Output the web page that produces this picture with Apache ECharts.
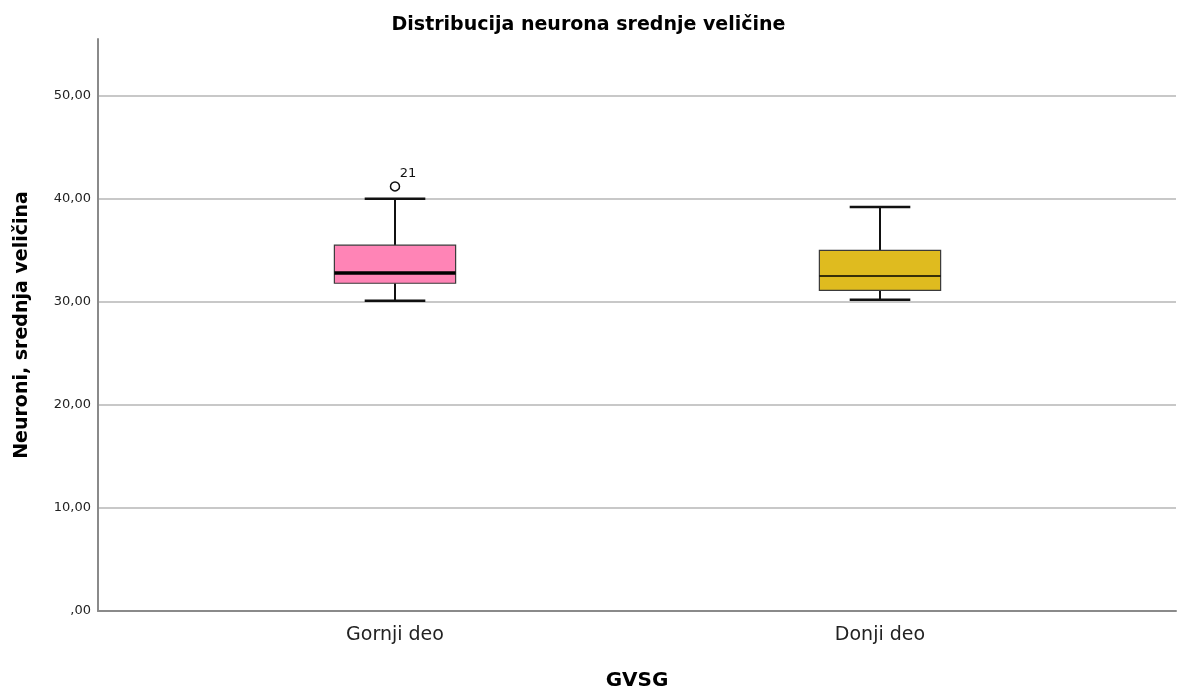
<!DOCTYPE html>
<html>
<head>
<meta charset="utf-8">
<title>Distribucija neurona srednje veličine</title>
<script src="https://cdn.jsdelivr.net/npm/echarts@6/dist/echarts.min.js"></script>
<style>
  html, body { margin: 0; padding: 0; background: #fff; }
  #chart { width: 1177px; height: 689px; }
</style>
</head>
<body>
<div id="chart"></div>
<script>
// Box-plot summary per group: whiskers, quartiles and median
const categories = ['Gornji deo', 'Donji deo'];
const whiskerLow = [30.1, 30.2];
const quartile1 = [31.8, 31.1];
const medians = [32.8, 32.5];
const quartile3 = [35.5, 35.0];
const whiskerHigh = [40.0, 39.2];

// Outliers: [group index, value, case label]
const outliers = [[0, 41.2, '21']];

// Y axis range and tick step
const yMin = 0;
const yMax = 55.5;
const yStep = 10;

const boxColors = ['#FF84B6', '#DFBB1F'];
const medianWidths = [3.5, 1.5];

const FONT = 'DejaVu Sans';

const boxRows = categories.map((c, i) => [i, whiskerLow[i], quartile1[i], medians[i], quartile3[i], whiskerHigh[i]]);

function fmtTick(v) {
  const s = v.toFixed(2).replace('.', ',');
  return s.startsWith('0,') ? s.slice(1) : s;
}

function renderBox(params, api) {
  const idx = api.value(0);
  const x = api.coord([idx, 0])[0];
  const yLo = api.coord([idx, api.value(1)])[1];
  const yQ1 = api.coord([idx, api.value(2)])[1];
  const yMed = api.coord([idx, api.value(3)])[1];
  const yQ3 = api.coord([idx, api.value(4)])[1];
  const yHi = api.coord([idx, api.value(5)])[1];
  const band = api.size([1, 0])[0];
  const bw = band * 0.25;
  const cw = bw / 2;
  const whisk = { stroke: '#111', lineWidth: 2 };
  return {
    type: 'group',
    children: [
      { type: 'line', shape: { x1: x, y1: yQ3, x2: x, y2: yHi }, style: whisk },
      { type: 'line', shape: { x1: x, y1: yQ1, x2: x, y2: yLo }, style: whisk },
      { type: 'line', shape: { x1: x - cw / 2, y1: yHi, x2: x + cw / 2, y2: yHi }, style: { stroke: '#111', lineWidth: 2.5 } },
      { type: 'line', shape: { x1: x - cw / 2, y1: yLo, x2: x + cw / 2, y2: yLo }, style: { stroke: '#111', lineWidth: 2.5 } },
      { type: 'rect', shape: { x: x - bw / 2, y: yQ3, width: bw, height: yQ1 - yQ3 },
        style: { fill: boxColors[params.dataIndex], stroke: '#3a3a3a', lineWidth: 1.2 } },
      { type: 'line', shape: { x1: x - bw / 2, y1: yMed, x2: x + bw / 2, y2: yMed },
        style: { stroke: '#000', lineWidth: medianWidths[params.dataIndex] } }
    ]
  };
}

const chart = echarts.init(document.getElementById('chart'), null, { renderer: 'canvas' });

chart.setOption({
  backgroundColor: '#ffffff',
  animation: false,
  title: {
    text: 'Distribucija neurona srednje veličine',
    left: 'center',
    top: 16,
    padding: 0,
    textStyle: { fontFamily: FONT, fontWeight: 'bold', fontSize: 19, color: '#000' }
  },
  grid: [
    { left: 98, right: 1, top: 39, bottom: 78, outerBoundsMode: 'none', containLabel: false },
    { left: 152.5, right: 54.5, top: 39, bottom: 78, outerBoundsMode: 'none', containLabel: false }
  ],
  xAxis: [
    {
      gridIndex: 0, type: 'value', min: 0, max: 1,
      axisLine: { show: true, lineStyle: { color: '#8a8a8a', width: 2 } },
      axisTick: { show: false }, axisLabel: { show: false }, splitLine: { show: false },
      name: 'GVSG', nameLocation: 'middle', nameGap: 60,
      nameTextStyle: { fontFamily: FONT, fontWeight: 'bold', fontSize: 20, color: '#000' }
    },
    {
      gridIndex: 1, type: 'category', data: categories,
      axisLine: { show: false }, axisTick: { show: false },
      axisLabel: { margin: 15, fontFamily: FONT, fontSize: 19, color: '#222' }
    }
  ],
  yAxis: [
    {
      gridIndex: 0, type: 'value', min: yMin, max: yMax, interval: yStep,
      axisLine: { show: true, lineStyle: { color: '#8a8a8a', width: 2 } },
      axisTick: { show: false },
      axisLabel: { margin: 7, fontFamily: FONT, fontSize: 13, color: '#222', showMaxLabel: false,
        formatter: v => (v > 50 ? '' : fmtTick(v)) },
      splitLine: { show: true, showMaxLine: false, lineStyle: { color: '#c8c8c8', width: 2 } },
      name: 'Neuroni, srednja veličina', nameLocation: 'middle', nameGap: 66,
      nameTextStyle: { fontFamily: FONT, fontWeight: 'bold', fontSize: 19, color: '#000' }
    },
    {
      gridIndex: 1, type: 'value', min: yMin, max: yMax, interval: yStep, show: false
    }
  ],
  series: [
    {
      type: 'custom',
      xAxisIndex: 1, yAxisIndex: 1,
      renderItem: renderBox,
      encode: { x: 0, y: [1, 2, 3, 4, 5] },
      data: boxRows,
      z: 5
    },
    {
      type: 'scatter',
      xAxisIndex: 1, yAxisIndex: 1,
      symbol: 'circle', symbolSize: 9,
      itemStyle: { color: '#fff', borderColor: '#111', borderWidth: 1.5, opacity: 1 },
      label: {
        show: true, position: [10, -14],
        formatter: p => p.data[2],
        fontFamily: FONT, fontSize: 13, color: '#111'
      },
      data: outliers,
      z: 6
    }
  ]
});
</script>
</body>
</html>
